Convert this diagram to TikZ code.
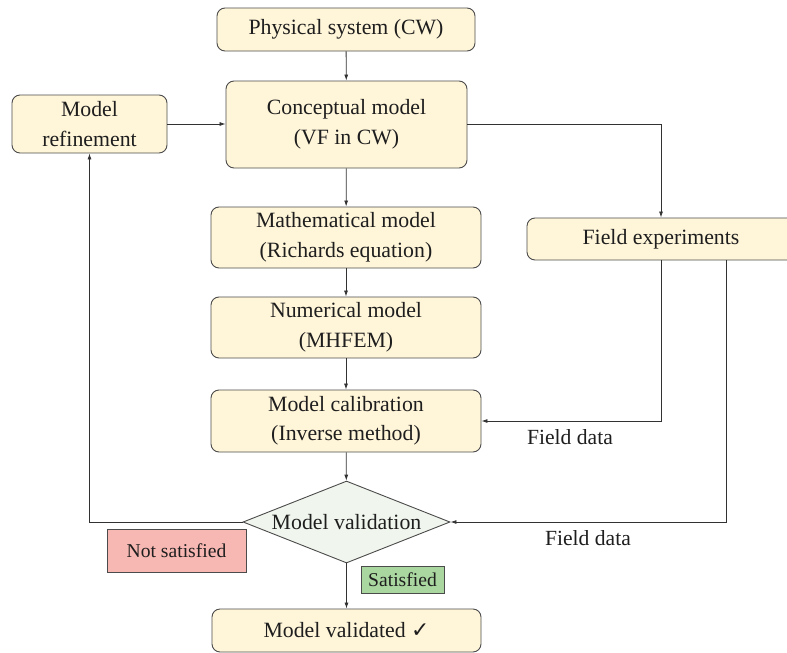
\documentclass[tikz,border=0pt]{standalone}
\usepackage{fontspec}
\setmainfont{Liberation Serif}
\newfontfamily\symfont{DejaVu Sans}
\usetikzlibrary{shapes.geometric,arrows.meta}
\definecolor{boxfill}{RGB}{255,245,217}
\definecolor{boxline}{RGB}{75,75,75}
\definecolor{diafill}{RGB}{240,246,237}
\definecolor{redfill}{RGB}{247,183,178}
\definecolor{greenfill}{RGB}{170,214,160}
\definecolor{lineclr}{RGB}{50,50,50}
\definecolor{txt}{RGB}{30,30,30}
\tikzset{
  box/.style={draw=boxline, fill=boxfill, rounded corners=8pt, line width=0.9pt,
    align=center, inner sep=0pt, text=txt,
    font=\fontsize{21.8}{29.5}\selectfont},
  decision/.style={draw=boxline, fill=diafill, shape=diamond, shape aspect=2.52,
    line width=0.9pt, inner sep=1pt, minimum width=207pt, minimum height=82pt,
    text=txt, font=\fontsize{21.8}{29.5}\selectfont},
  tag/.style={draw=boxline, line width=0.9pt, inner sep=0pt, text=txt,
    font=\fontsize{19.6}{23}\selectfont},
  lbl/.style={text=txt, inner sep=0pt, font=\fontsize{21.6}{26}\selectfont},
  conn/.style={draw=lineclr, line width=0.8pt, -{Latex[length=6pt,width=4pt]}}
}
\begin{document}
\begin{tikzpicture}[x=1pt,y=-1pt]
\useasboundingbox (0,0) rectangle (787,653);
\node[box, minimum width=258pt, minimum height=43pt] (phys) at (346,29.5) {Physical system (CW)};
\node[box, minimum width=241pt, minimum height=87pt] (concept) at (346.5,124.5) {Conceptual model\\(VF in CW)};
\node[box, minimum width=155pt, minimum height=58pt] (refine) at (89.5,124) {Model\\refinement};
\node[box, minimum width=270pt, minimum height=61pt] (math) at (346,237.5) {Mathematical model\\(Richards equation)};
\node[box, minimum width=270pt, minimum height=61pt] (numer) at (346,327.5) {Numerical model\\(MHFEM)};
\node[box, minimum width=270pt, minimum height=62pt] (calib) at (346,421) {Model calibration\\(Inverse method)};
\node[box, minimum width=268pt, minimum height=42pt] (fexp) at (661,239) {Field experiments};
\node[decision] (valid) at (346.5,522) {Model validation};
\node[tag, fill=redfill, minimum width=139pt, minimum height=43pt] (notsat) at (176.5,550.5) {Not satisfied};
\node[tag, fill=greenfill, minimum width=83pt, minimum height=27pt] (sat) at (402.5,579.5) {Satisfied};
\node[box, minimum width=269pt, minimum height=43pt] (done) at (346.5,630.5) {Model validated {\symfont ✓}};
\node[lbl] (fd1) at (570,437) {Field data};
\node[lbl] (fd2) at (588,538) {Field data};
\coordinate (f2) at (726,260);
\coordinate (f1) at (661,260);
\draw[conn] (phys) -- (concept);
\draw[conn] (refine.east) -- (refine.east -| concept.west);
\draw[conn] (concept.east) -| (fexp.north);
\draw[conn] (concept) -- (math);
\draw[conn] (math) -- (numer);
\draw[conn] (numer) -- (calib);
\draw[conn] (calib) -- (valid);
\draw[conn] (valid) -- (done);
\draw[conn] (f1) |- (calib.east);
\draw[conn] (f2) |- (valid.east);
\draw[conn] (valid.west) -| (refine.south);
\end{tikzpicture}
\end{document}
